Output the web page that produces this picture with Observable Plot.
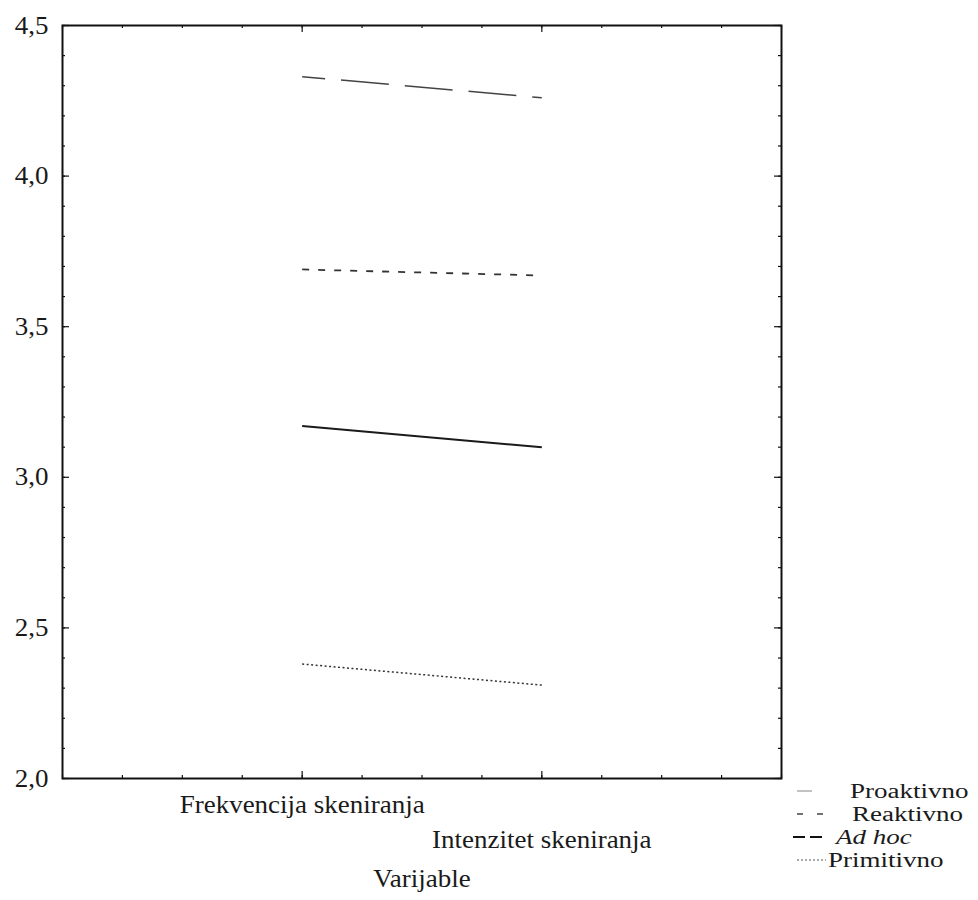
<!DOCTYPE html>
<html><head><meta charset="utf-8">
<script src="https://cdn.jsdelivr.net/npm/d3@7"></script>
<script src="https://cdn.jsdelivr.net/npm/@observablehq/plot@0.6"></script>
<style>
body{margin:0;background:#fff;}
#wrap{position:relative;width:978px;height:900px;font-family:"Liberation Serif","Times New Roman",serif;background:#fff;}
#wrap svg.plot{position:absolute;left:0;top:0;}
.row{position:absolute;height:22px;width:190px;}
.row svg{position:absolute;left:0;top:0;overflow:visible}
.row span{position:absolute;top:0;font-size:20px;line-height:22px;transform:scaleX(1.35);transform-origin:left center;white-space:nowrap;color:#1a1a1a}
</style></head><body><div id="wrap"></div>
<script>
// ---- data ----
const variables = ["Frekvencija skeniranja", "Intenzitet skeniranja"];
const series = ["Proaktivno", "Reaktivno", "Ad hoc", "Primitivno"];
const frekvencija = [3.17, 3.69, 4.33, 2.38];
const intenzitet = [3.10, 3.67, 4.26, 2.31];
const yTickValues = [2.0, 2.5, 3.0, 3.5, 4.0, 4.5];
const axisLabel = "Varijable";

// ---- styles ----
const lineStyle = {
  "Proaktivno": {stroke: "#1a1a1a", strokeWidth: 2, strokeDasharray: null},
  "Reaktivno": {stroke: "#333", strokeWidth: 1.8, strokeDasharray: "7,9"},
  "Ad hoc": {stroke: "#444", strokeWidth: 1.5, strokeDasharray: "48,16", strokeDashoffset: 25},
  "Primitivno": {stroke: "#333", strokeWidth: 1.5, strokeDasharray: "2,2.5"}
};
const legendStyle = {
  "Proaktivno": {stroke: "#999", strokeWidth: 1.2, dash: null, x1: 4, x2: 19, textX: 57, italic: false},
  "Reaktivno": {stroke: "#444", strokeWidth: 1.5, dash: "6,14", x1: 4, x2: 30, textX: 59, italic: false},
  "Ad hoc": {stroke: "#111", strokeWidth: 2.2, dash: "12,5", x1: 0, x2: 29, textX: 43, italic: true},
  "Primitivno": {stroke: "#555", strokeWidth: 1.2, dash: "2,2", x1: 4, x2: 33, textX: 35, italic: false}
};

const rows = series.flatMap((s, i) => [
  {series: s, x: 1, value: frekvencija[i]},
  {series: s, x: 2, value: intenzitet[i]}
]);

const W = 978, H = 900, mL = 62, mT = 25, mR = 197, mB = 122;
const fw = W - mL - mR, fh = H - mT - mB;
const yMinor = d3.range(20, 46).map(d => d / 10);
const xMinor = d3.range(0, 13).map(d => d / 4);
const xMajor = [1, 2];
const minor = 3, major = 7;
const tickStyle = {stroke: "#111", strokeWidth: 1.2};
const SX = 1.08;

const marks = [
  // inward ticks
  Plot.tickY(yMinor, {y: d => d, insetRight: fw - minor, ...tickStyle}),
  Plot.tickY(yMinor, {y: d => d, insetLeft: fw - minor, ...tickStyle}),
  Plot.tickY(yTickValues, {y: d => d, insetRight: fw - major, ...tickStyle}),
  Plot.tickY(yTickValues, {y: d => d, insetLeft: fw - major, ...tickStyle}),
  Plot.tickX(xMinor, {x: d => d, insetTop: fh - minor, ...tickStyle}),
  Plot.tickX(xMinor, {x: d => d, insetBottom: fh - minor, ...tickStyle}),
  Plot.tickX(xMajor, {x: d => d, insetTop: fh - major, ...tickStyle}),
  Plot.tickX(xMajor, {x: d => d, insetBottom: fh - major, ...tickStyle}),
  Plot.frame({stroke: "#111", strokeWidth: 2}),
  Plot.axisY(yTickValues, {anchor: "left", tickSize: 0, tickPadding: 14, label: null,
    tickFormat: d => d.toFixed(1).replace(".", ","), fill: "#1a1a1a"}),
  Plot.axisX([1], {anchor: "bottom", tickSize: 0, tickPadding: 17, label: null,
    tickFormat: d => variables[d - 1], fill: "#1a1a1a"}),
  Plot.axisX([2], {anchor: "bottom", tickSize: 0, tickPadding: 52, label: null,
    tickFormat: d => variables[d - 1], fill: "#1a1a1a"}),
  Plot.text([axisLabel], {frameAnchor: "bottom", dy: 108, text: d => d, fill: "#1a1a1a"}),
  ...series.map(s => Plot.line(rows.filter(r => r.series === s), {
    x: "x", y: "value", ...lineStyle[s], strokeLinecap: "butt"
  }))
];

const chart = Plot.plot({
  width: W, height: H,
  marginLeft: mL, marginTop: mT, marginRight: mR, marginBottom: mB,
  x: {domain: [0, 3]},
  y: {domain: [2, 4.5]},
  style: {fontFamily: "'Liberation Serif','Times New Roman',serif", fontSize: "25px", background: "#fff", color: "#1a1a1a"},
  marks
});
chart.classList.add("plot");

// horizontally stretch text glyphs like the reference
chart.querySelectorAll("text").forEach(t => {
  const tr = t.getAttribute("transform");
  if (tr) {
    t.setAttribute("transform", tr + ` scale(${SX},1)`);
  } else {
    const x = +(t.getAttribute("x") || 0), y = +(t.getAttribute("y") || 0);
    t.removeAttribute("x"); t.removeAttribute("y");
    t.setAttribute("transform", `translate(${x},${y}) scale(${SX},1)`);
  }
});

const wrap = document.getElementById("wrap");
wrap.appendChild(chart);

// legend
const legendLeft = 793, legendTop = 780, rowH = 23;
series.forEach((s, i) => {
  const st = legendStyle[s];
  const row = document.createElement("div");
  row.className = "row";
  row.style.left = legendLeft + "px";
  row.style.top = (legendTop + i * rowH) + "px";
  const svg = d3.create("svg").attr("width", 40).attr("height", 22);
  svg.append("line").attr("x1", st.x1).attr("x2", st.x2).attr("y1", 11).attr("y2", 11)
    .attr("stroke", st.stroke).attr("stroke-width", st.strokeWidth)
    .attr("stroke-dasharray", st.dash);
  row.appendChild(svg.node());
  const span = document.createElement("span");
  span.textContent = s;
  span.style.left = st.textX + "px";
  if (st.italic) span.style.fontStyle = "italic";
  row.appendChild(span);
  wrap.appendChild(row);
});
</script></body></html>
